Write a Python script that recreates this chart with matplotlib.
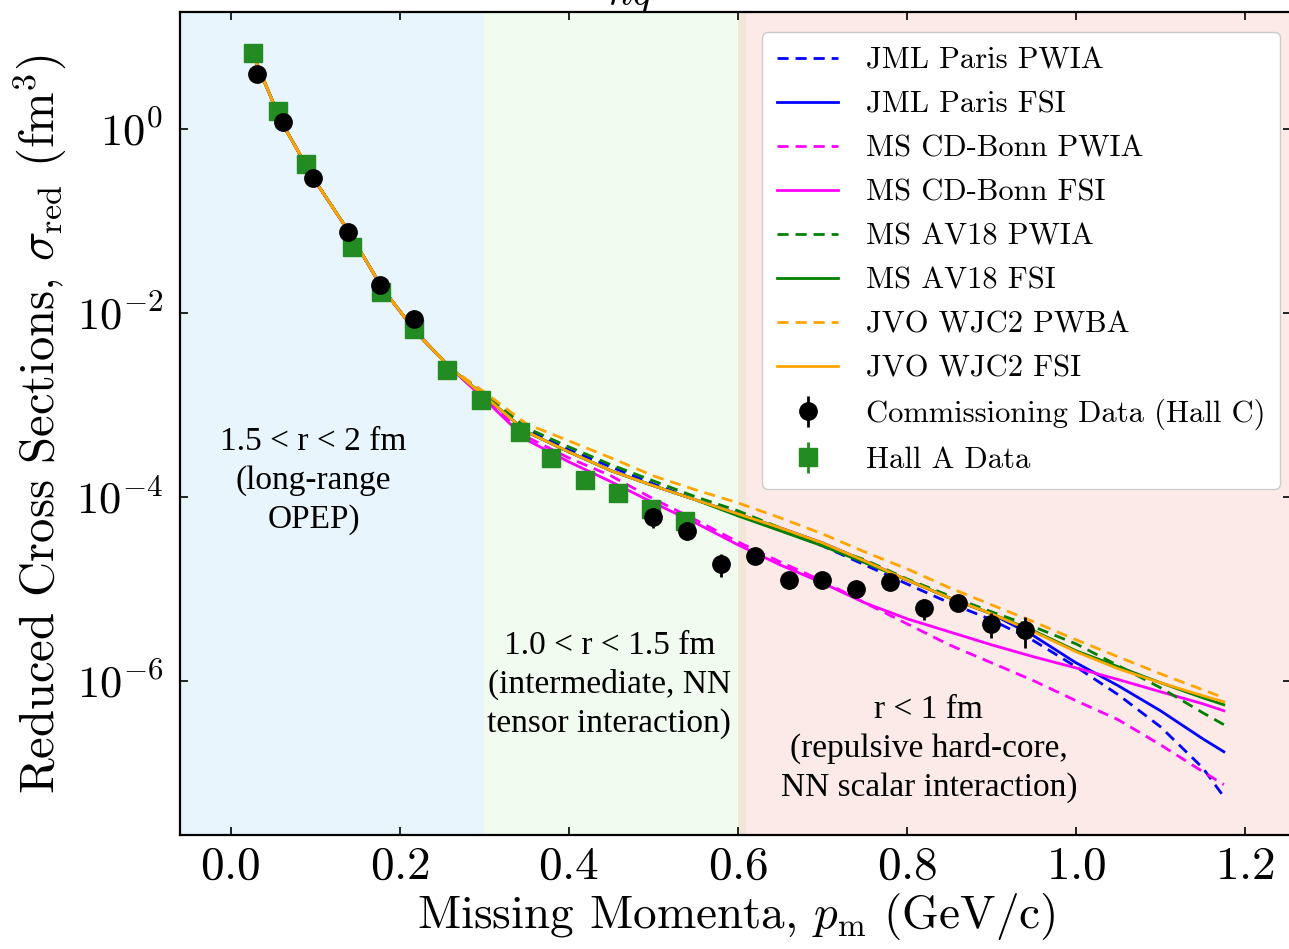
import numpy as np
import matplotlib.pyplot as plt
from matplotlib.ticker import FixedLocator, NullLocator

plt.rcParams['font.family'] = 'serif'
plt.rcParams['font.serif'] = ['cmr10']
plt.rcParams['mathtext.fontset'] = 'cm'
plt.rcParams['axes.formatter.use_mathtext'] = True

# theory curves (fm^3)
pm_grid = [0.03, 0.06, 0.10, 0.14, 0.18, 0.22, 0.26, 0.30, 0.35, 0.40, 0.45, 0.50,
           0.55, 0.60, 0.65, 0.70, 0.75, 0.80, 0.85, 0.90, 0.95, 1.00, 1.05, 1.10,
           1.15, 1.175]
early = [5.35, 1.19, 0.272, 0.0759, 0.0182, 0.00607, 0.00252]

paris_pwia = early + [1.32e-3, 5.35e-4, 3.24e-4, 2.12e-4, 1.38e-4, 9.27e-5, 6.53e-5, 4.38e-5,
                      2.93e-5, 1.82e-5, 1.13e-5, 7.05e-6, 4.60e-6, 2.72e-6, 1.42e-6, 7.05e-7,
                      3.16e-7, 1.13e-7, 5.48e-8]
paris_fsi = early + [1.25e-3, 5.09e-4, 3.08e-4, 1.92e-4, 1.32e-4, 9.27e-5, 6.53e-5, 4.60e-5,
                     3.16e-5, 2.01e-5, 1.25e-5, 7.98e-6, 5.35e-6, 3.08e-6, 1.57e-6, 8.83e-7,
                     4.72e-7, 2.34e-7, 1.69e-7]
cdbonn_pwia = early + [1.19e-3, 4.49e-4, 2.65e-4, 1.69e-4, 9.51e-5, 5.62e-5, 3.24e-5, 1.96e-5,
                       1.22e-5, 7.05e-6, 4.17e-6, 2.46e-6, 1.57e-6, 1.0e-6, 6.07e-7, 3.77e-7,
                       2.01e-7, 1.03e-7, 7.41e-8]
cdbonn_fsi = early + [1.16e-3, 4.17e-4, 2.40e-4, 1.46e-4, 8.61e-5, 5.21e-5, 3.01e-5, 1.82e-5,
                      1.16e-5, 7.05e-6, 4.72e-6, 3.41e-6, 2.46e-6, 1.82e-6, 1.38e-6, 1.03e-6,
                      7.59e-7, 5.62e-7, 4.72e-7]
av18_pwia = early + [1.32e-3, 5.62e-4, 3.49e-4, 2.23e-4, 1.49e-4, 1.0e-4, 7.05e-5, 4.60e-5,
                     3.01e-5, 2.07e-5, 1.28e-5, 8.40e-6, 5.62e-6, 3.86e-6, 2.52e-6, 1.46e-6,
                     8.40e-7, 4.49e-7, 3.33e-7]
av18_fsi = early + [1.25e-3, 5.09e-4, 3.08e-4, 1.92e-4, 1.32e-4, 9.27e-5, 6.21e-5, 4.27e-5,
                    2.93e-5, 1.92e-5, 1.25e-5, 7.98e-6, 5.35e-6, 3.49e-6, 2.12e-6, 1.42e-6,
                    9.51e-7, 6.53e-7, 5.48e-7]
wjc2_pwba = early + [1.38e-3, 6.21e-4, 4.06e-4, 2.65e-4, 1.69e-4, 1.19e-4, 8.61e-5, 5.91e-5,
                     3.96e-5, 2.52e-5, 1.65e-5, 1.03e-5, 6.70e-6, 4.38e-6, 2.79e-6, 1.82e-6,
                     1.19e-6, 7.98e-7, 6.53e-7]
wjc2_fsi = early + [1.25e-3, 5.09e-4, 3.08e-4, 1.92e-4, 1.32e-4, 9.27e-5, 6.53e-5, 4.60e-5,
                    3.16e-5, 2.01e-5, 1.25e-5, 7.98e-6, 5.35e-6, 3.41e-6, 2.07e-6, 1.35e-6,
                    9.51e-7, 6.87e-7, 5.91e-7]

# data points
hallc_pm = [0.031, 0.062, 0.098, 0.139, 0.177, 0.217, 0.50, 0.54, 0.58, 0.62, 0.66, 0.70,
            0.74, 0.78, 0.82, 0.86, 0.90, 0.94]
hallc_sig = [3.96, 1.19, 0.293, 0.0759, 0.0201, 0.00861, 6.07e-5, 4.27e-5, 1.87e-5, 2.29e-5,
             1.25e-5, 1.25e-5, 1.0e-5, 1.19e-5, 6.21e-6, 7.05e-6, 4.17e-6, 3.58e-6]
hallc_err = [0.198, 0.060, 0.015, 0.0038, 0.0010, 0.00043, 1.5e-5, 8.5e-6, 5.2e-6, 3.4e-6,
             2.5e-6, 2.2e-6, 1.5e-6, 1.8e-6, 1.6e-6, 1.1e-6, 1.25e-6, 1.3e-6]

halla_pm = [0.026, 0.056, 0.089, 0.144, 0.178, 0.217, 0.256, 0.296, 0.342, 0.379, 0.419,
            0.458, 0.497, 0.537]
halla_sig = [6.70, 1.57, 0.417, 0.0522, 0.0169, 0.00670, 0.00240, 0.00113, 5.09e-4, 2.65e-4,
             1.53e-4, 1.10e-4, 7.41e-5, 5.48e-5]
halla_err = [0.34, 0.079, 0.021, 0.0026, 0.00085, 0.00034, 0.00012, 5.7e-5, 2.5e-5, 1.3e-5,
             7.7e-6, 5.5e-6, 3.7e-6, 2.7e-6]

fig = plt.figure(figsize=(12.89, 9.49), dpi=100)
ax = fig.add_axes([0.1396, 0.1201, 0.8623, 0.8673])

xmin, xmax = -0.06, 1.255
ax.axvspan(xmin, 0.30, color=(35/255, 165/255, 235/255), alpha=0.1, lw=0)
ax.axvspan(0.30, 0.61, color=(135/255, 225/255, 105/255), alpha=0.1, lw=0)
ax.axvspan(0.60, xmax, color=(225/255, 55/255, 25/255), alpha=0.1, lw=0)

dash = (0, (4, 2.5))
lw = 2.0
ax.plot(pm_grid, paris_pwia, color='blue', ls=dash, lw=lw, label='JML Paris PWIA')
ax.plot(pm_grid, paris_fsi, color='blue', lw=lw, label='JML Paris FSI')
ax.plot(pm_grid, cdbonn_pwia, color='magenta', ls=dash, lw=lw, label='MS CD-Bonn PWIA')
ax.plot(pm_grid, cdbonn_fsi, color='magenta', lw=lw, label='MS CD-Bonn FSI')
ax.plot(pm_grid, av18_pwia, color='green', ls=dash, lw=lw, label='MS AV18 PWIA')
ax.plot(pm_grid, av18_fsi, color='green', lw=lw, label='MS AV18 FSI')
ax.plot(pm_grid, wjc2_pwba, color='orange', ls=dash, lw=lw, label='JVO WJC2 PWBA')
ax.plot(pm_grid, wjc2_fsi, color='orange', lw=lw, label='JVO WJC2 FSI')

ax.errorbar(hallc_pm, hallc_sig, yerr=hallc_err, fmt='o', color='black', ms=12.5,
            elinewidth=2, capsize=0, label='Commissioning Data (Hall C)', zorder=5)
ax.errorbar(halla_pm, halla_sig, yerr=halla_err, fmt='s', color='forestgreen', ms=13,
            elinewidth=2, capsize=0, label='Hall A Data', zorder=4)

ax.set_yscale('log')
ax.set_xlim(xmin, xmax)
ax.set_ylim(2.1e-8, 18.7)
ax.yaxis.set_major_locator(FixedLocator([1e0, 1e-2, 1e-4, 1e-6, 1e-8]))
ax.yaxis.set_minor_locator(NullLocator())
ax.set_xticks([0.0, 0.2, 0.4, 0.6, 0.8, 1.0, 1.2])

ax.tick_params(which='both', direction='in', top=True, right=True, length=6, width=1.2)
ax.tick_params(axis='x', labelsize=34, pad=8)
ax.tick_params(axis='y', labelsize=32, pad=12)
for s in ax.spines.values():
    s.set_linewidth(1.6)

ax.set_xlabel(r'Missing Momenta, $p_{\rm m}$ (GeV/c)', fontsize=34, labelpad=2)
ax.set_ylabel(r'Reduced Cross Sections, $\sigma_{\rm red}$ (fm$^3$)', fontsize=35, labelpad=6)

tfont = dict(family='Liberation Serif', fontsize=24, ha='center', va='center',
             multialignment='center', linespacing=1.35)
ax.text(0.098, 1.49e-4, '1.5 < r < 2 fm\n(long-range\nOPEP)', **tfont)
ax.text(0.448, 9.06e-7, '1.0 < r < 1.5 fm\n(intermediate, NN\ntensor interaction)', **tfont)
ax.text(0.826, 1.82e-7, 'r < 1 fm\n(repulsive hard-core,\nNN scalar interaction)', **tfont)

ax.legend(loc='upper right', bbox_to_anchor=(0.990, 0.9757), borderaxespad=0, fontsize=22,
          framealpha=1, edgecolor='0.8', fancybox=True, borderpad=0.5, labelspacing=0.54,
          handletextpad=0.9)

fig.text(0.489, 1 - 5 / 949, r'$nq$', fontsize=30, ha='center', va='baseline')

fig.savefig('out.png', dpi=100)
